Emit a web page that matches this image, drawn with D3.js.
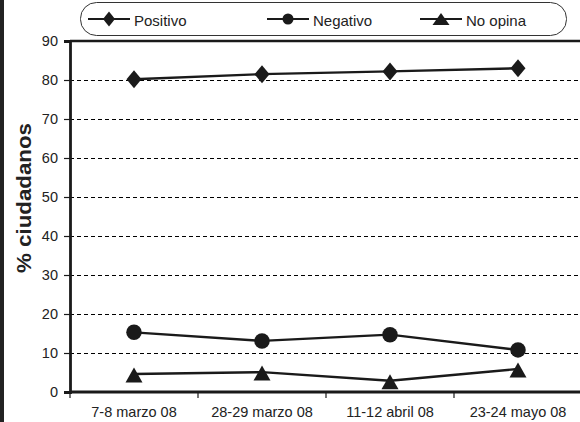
<!DOCTYPE html>
<html><head><meta charset="utf-8">
<script src="https://cdn.jsdelivr.net/npm/d3@7"></script>
<style>body{margin:0;background:#fff}svg{display:block;font-family:"Liberation Sans",Arial,sans-serif}</style>
</head><body>
<svg id="c" width="580" height="422"></svg>
<script>
const categories = ["7-8 marzo 08","28-29 marzo 08","11-12 abril 08","23-24 mayo 08"];
const positivo = [80.2, 81.5, 82.2, 83.0];
const negativo = [15.3, 13.1, 14.7, 10.8];
const noOpina = [4.6, 5.1, 2.9, 5.9];
const yTicks = [0,10,20,30,40,50,60,70,80,90];
const seriesNames = ["Positivo","Negativo","No opina"];

(function(){
const svg = d3.select("#c");
const ink = "#1a1a1a";
const FF = "Liberation Sans, Arial, sans-serif";
const pL = 70, pT = 41, pR = 582, pB = 392;
const x = d3.scaleBand().domain(categories).range([pL, pR]);
const y = d3.scaleLinear().domain([0, 90]).range([pB, pT]);

svg.append("rect").attr("x",0).attr("y",0).attr("width",4).attr("height",422).attr("fill","#222");

svg.append("g").selectAll("line").data(yTicks.filter(d=>d>0 && d<90)).join("line")
  .attr("x1",pL).attr("x2",580).attr("y1",d=>Math.round(y(d))+0.5).attr("y2",d=>Math.round(y(d))+0.5)
  .attr("stroke","#000").attr("stroke-width",1).attr("stroke-dasharray","4,3");

svg.append("line").attr("x1",pL).attr("x2",580).attr("y1",y(90)).attr("y2",y(90))
  .attr("stroke",ink).attr("stroke-width",2.5);

const yAxis = svg.append("g").attr("transform",`translate(${pL},0)`)
  .call(d3.axisLeft(y).tickValues(yTicks).tickSize(6).tickPadding(6));
yAxis.select(".domain").attr("stroke",ink).attr("stroke-width",2.8);
yAxis.selectAll(".tick line").attr("stroke",ink).attr("stroke-width",1.2);
yAxis.selectAll("text").attr("font-size",14.5).attr("fill","#222").attr("font-family",FF);

const xAxis = svg.append("g").attr("transform",`translate(0,${pB})`)
  .call(d3.axisBottom(x).tickSize(0).tickPadding(15));
xAxis.select(".domain").remove();
xAxis.selectAll("text").attr("font-size",14.5).attr("fill","#222").attr("font-family",FF);
svg.append("line").attr("x1",pL).attr("x2",580).attr("y1",pB).attr("y2",pB)
  .attr("stroke",ink).attr("stroke-width",2.8);
const bounds = categories.map(c=>x(c)).concat([x(categories[categories.length-1])+x.bandwidth()]);
svg.append("g").selectAll("line").data(bounds.filter(b=>b<=580)).join("line")
  .attr("x1",d=>d).attr("x2",d=>d).attr("y1",pB).attr("y2",pB+6)
  .attr("stroke",ink).attr("stroke-width",1.2);

svg.append("text").attr("transform","translate(31,198) rotate(-90)")
  .attr("text-anchor","middle").attr("font-size",21).attr("font-weight","bold").attr("fill","#222")
  .attr("textLength",150).attr("lengthAdjust","spacingAndGlyphs")
  .text("% ciudadanos");

// custom symbols with explicit width/height
const diamond = (w,h) => ({draw(ctx){ctx.moveTo(0,-h/2);ctx.lineTo(w/2,0);ctx.lineTo(0,h/2);ctx.lineTo(-w/2,0);ctx.closePath();}});
const circle = (d) => ({draw(ctx){ctx.moveTo(d/2,0);ctx.arc(0,0,d/2,0,2*Math.PI);}});
const triangle = (w,h) => ({draw(ctx){ctx.moveTo(0,-h/2);ctx.lineTo(w/2,h/2);ctx.lineTo(-w/2,h/2);ctx.closePath();}});
const plotSyms = [diamond(15,18), circle(15.5), triangle(17,15)];
const legSyms = [diamond(12,15), circle(11), triangle(17,12)];

const cx = c => x(c) + x.bandwidth()/2;
const line = d3.line().x((d,i)=>cx(categories[i])).y(d=>y(d));
const allSeries = [positivo, negativo, noOpina];

allSeries.forEach((vals, si) => {
  svg.append("path").datum(vals).attr("d", line).attr("fill","none")
    .attr("stroke",ink).attr("stroke-width",2.4);
  svg.append("g").selectAll("path").data(vals).join("path")
    .attr("transform",(d,i)=>`translate(${cx(categories[i])},${y(d) + (si===2?1:0)})`)
    .attr("d", d3.symbol().type(plotSyms[si]))
    .attr("fill",ink);
});

const lg = svg.append("g");
lg.append("rect").attr("x",80.5).attr("y",2.5).attr("width",486).attr("height",33).attr("rx",16)
  .attr("fill","#fff").attr("stroke","#333").attr("stroke-width",1);
const legX = [88, 267, 420];
seriesNames.forEach((n,i)=>{
  const g = lg.append("g").attr("transform",`translate(${legX[i]},19)`);
  g.append("line").attr("x1",0).attr("x2",42).attr("stroke",ink).attr("stroke-width",2.2);
  g.append("path").attr("transform","translate(21,0)")
    .attr("d", d3.symbol().type(legSyms[i])).attr("fill",ink);
  g.append("text").attr("x",46).attr("y",7).attr("font-size",15).attr("fill","#222").attr("font-family",FF).text(n);
});
})();
</script>
</body></html>
